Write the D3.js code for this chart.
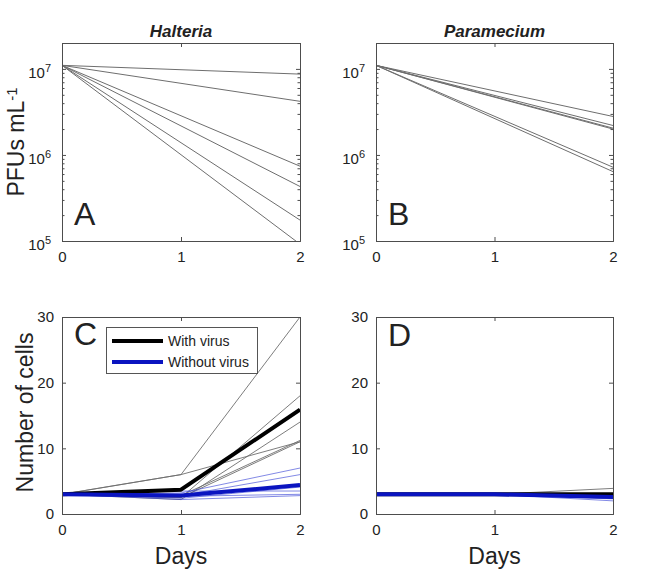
<!DOCTYPE html>
<html>
<head>
<meta charset="utf-8">
<script src="https://cdn.jsdelivr.net/npm/d3@7"></script>
<style>
  body { margin: 0; background: #fff; }
  svg { display: block; }
  text { font-family: "Liberation Sans", Arial, Helvetica, sans-serif; fill: #222; }
</style>
</head>
<body>
<svg id="chart" width="672" height="588"></svg>
<script>
// ---------- Data ----------
const pfuDays = [0, 2];
const cellDays = [0, 1, 2];
const pfuTicks = [1e5, 1e6, 1e7];
const pfuExponents = ["5", "6", "7"];
const dayTicks = [0, 1, 2];
const cellTicks = [0, 10, 20, 30];

const halteriaPFU = [
  [1.1e7, 8.7e6], [1.1e7, 4.2e6], [1.1e7, 7.4e5],
  [1.1e7, 4.3e5], [1.1e7, 1.75e5], [1.1e7, 9.2e4]
];
const parameciumPFU = [
  [1.1e7, 2.8e6], [1.1e7, 2.2e6], [1.1e7, 2.05e6],
  [1.1e7, 2.0e6], [1.1e7, 7.2e5], [1.1e7, 6.4e5]
];

const halteriaWithVirus = [
  [3, 6, 30], [3, 6, 11], [3, 2.5, 18], [3, 2.2, 14], [3, 2.5, 11], [3, 2.8, 11.2]
];
const halteriaWithoutVirus = [
  [3, 3.2, 7.0], [3, 2.8, 6.0], [3, 2.4, 4.1], [3, 2.7, 3.0], [3, 2.2, 2.8], [3, 3.5, 3.5]
];
const halteriaWithMean = [3, 3.7, 15.9];
const halteriaWithoutMean = [3, 2.8, 4.4];

const parameciumWithVirus = [
  [3, 3, 3.9], [3, 3, 3.1], [3, 2.9, 2.7], [3, 3, 2.4]
];
const parameciumWithoutVirus = [
  [3, 3, 2.9], [3, 3, 2.6], [3, 3, 2.3], [3, 3, 2.0]
];
const parameciumWithMean = [3, 3, 3.0];
const parameciumWithoutMean = [3, 3, 2.6];

const titles = ["Halteria", "Paramecium"];
const panelLetters = ["A", "B", "C", "D"];
const legendLabels = ["With virus", "Without virus"];

// ---------- Layout ----------
const svg = d3.select("#chart");
const axisColor = "#4d4d4d";
const grayLine = "#6e6e6e";
const blueThin = "#3a46d6";
const blueThick = "#0a14c0";

const cols = [{x0: 62, x1: 300}, {x0: 376, x1: 613}];
const rowTop = {y0: 43, y1: 241};
const rowBot = {y0: 317, y1: 514};

let clipId = 0;
function panel(col, row, isLog) {
  const x = d3.scaleLinear().domain([0, 2]).range([col.x0, col.x1]);
  const y = isLog
    ? d3.scaleLog().domain([1e5, 2e7]).range([row.y1, row.y0])
    : d3.scaleLinear().domain([0, 30]).range([row.y1, row.y0]);
  const g = svg.append("g");
  const id = "clip" + (clipId++);
  svg.append("clipPath").attr("id", id).append("rect")
    .attr("x", col.x0).attr("y", row.y0)
    .attr("width", col.x1 - col.x0).attr("height", row.y1 - row.y0);
  const plot = g.append("g").attr("clip-path", `url(#${id})`);
  return {x, y, g, plot, col, row};
}

function drawFrame(p, isLog) {
  const {x, y, g, col, row} = p;
  const tl = 4;
  const xa = g.append("g").attr("transform", `translate(0,${row.y1})`)
    .call(d3.axisBottom(x).tickValues(dayTicks).tickSize(-tl).tickPadding(10).tickFormat(d3.format("d")));
  const xt = g.append("g").attr("transform", `translate(0,${row.y0})`)
    .call(d3.axisTop(x).tickValues(dayTicks).tickSize(-tl).tickFormat(""));
  let ya, yr;
  if (isLog) {
    ya = g.append("g").attr("transform", `translate(${col.x0},0)`)
      .call(d3.axisLeft(y).tickValues(pfuTicks).tickSize(-tl).tickPadding(6).tickFormat(() => ""));
    yr = g.append("g").attr("transform", `translate(${col.x1},0)`)
      .call(d3.axisRight(y).tickValues(pfuTicks).tickSize(-tl).tickFormat(""));
    const minors = [];
    [1e5, 1e6, 1e7].forEach(dec => { for (let k = 2; k <= 9; k++) { const v = dec * k; if (v <= 2e7) minors.push(v); } });
    const ml = g.append("g").attr("transform", `translate(${col.x0},0)`)
      .call(d3.axisLeft(y).tickValues(minors).tickSize(-2.5).tickFormat(""));
    const mr = g.append("g").attr("transform", `translate(${col.x1},0)`)
      .call(d3.axisRight(y).tickValues(minors).tickSize(-2.5).tickFormat(""));
    [ml, mr].forEach(a => { a.select(".domain").remove(); a.selectAll("line").attr("stroke", axisColor); });
    ya.selectAll(".tick").each(function(d, i) {
      const t = d3.select(this).select("text").text(null)
        .attr("font-size", 15).attr("dy", "0.55em").attr("x", -11);
      t.append("tspan").text("10");
      t.append("tspan").attr("dy", "-0.55em").attr("font-size", 11).text(pfuExponents[i]);
    });
  } else {
    ya = g.append("g").attr("transform", `translate(${col.x0},0)`)
      .call(d3.axisLeft(y).tickValues(cellTicks).tickSize(-tl).tickPadding(8).tickFormat(d3.format("d")));
    yr = g.append("g").attr("transform", `translate(${col.x1},0)`)
      .call(d3.axisRight(y).tickValues(cellTicks).tickSize(-tl).tickFormat(""));
  }
  [xa, xt, ya, yr].forEach(a => {
    a.select(".domain").attr("stroke", axisColor).attr("stroke-width", 1);
    a.selectAll("line").attr("stroke", axisColor);
    a.selectAll("text").attr("font-size", 15).attr("fill", "#222")
      .attr("font-family", '"Liberation Sans", Arial, sans-serif');
  });
}

function lines(p, data, days, color, width, opacity) {
  const gen = d3.line().x((d, i) => p.x(days[i])).y(d => p.y(d));
  p.plot.selectAll(null).data(data).enter().append("path")
    .attr("d", gen).attr("fill", "none")
    .attr("stroke", color).attr("stroke-width", width)
    .attr("stroke-opacity", opacity).attr("stroke-linejoin", "round");
}

// ---------- Panels ----------
const pA = panel(cols[0], rowTop, true);
lines(pA, halteriaPFU, pfuDays, grayLine, 1, 1);
drawFrame(pA, true);

const pB = panel(cols[1], rowTop, true);
lines(pB, parameciumPFU, pfuDays, grayLine, 1, 1);
drawFrame(pB, true);

const pC = panel(cols[0], rowBot, false);
lines(pC, halteriaWithVirus, cellDays, grayLine, 0.9, 1);
lines(pC, halteriaWithoutVirus, cellDays, blueThin, 0.8, 0.8);
lines(pC, [halteriaWithMean], cellDays, "#000", 4, 1);
lines(pC, [halteriaWithoutMean], cellDays, blueThick, 4, 1);
drawFrame(pC, false);

const pD = panel(cols[1], rowBot, false);
lines(pD, parameciumWithVirus, cellDays, grayLine, 0.9, 1);
lines(pD, parameciumWithoutVirus, cellDays, blueThin, 0.8, 0.8);
lines(pD, [parameciumWithMean], cellDays, "#000", 4, 1);
lines(pD, [parameciumWithoutMean], cellDays, blueThick, 4, 1);
drawFrame(pD, false);

// ---------- Titles, labels ----------
[pA, pB].forEach((p, i) => {
  svg.append("text").attr("x", (p.col.x0 + p.col.x1) / 2).attr("y", 37)
    .attr("text-anchor", "middle").attr("font-size", 17)
    .attr("font-weight", "bold").attr("font-style", "italic").text(titles[i]);
});

[[pA, 225], [pB, 225], [pC, 345], [pD, 346]].forEach(([p, by], i) => {
  svg.append("text").attr("x", p.col.x0 + 12).attr("y", by)
    .attr("font-size", 32).attr("fill", "#000").text(panelLetters[i]);
});

const yl1 = svg.append("text")
  .attr("transform", `translate(24,${(rowTop.y0 + rowTop.y1) / 2}) rotate(-90)`)
  .attr("text-anchor", "middle").attr("font-size", 23);
yl1.append("tspan").text("PFUs mL");
yl1.append("tspan").attr("dy", "-0.5em").attr("font-size", 15).text("-1");

svg.append("text")
  .attr("transform", `translate(33,${(rowBot.y0 + rowBot.y1) / 2 - 3}) rotate(-90)`)
  .attr("text-anchor", "middle").attr("font-size", 23).text("Number of cells");

[pC, pD].forEach(p => {
  svg.append("text").attr("x", (p.col.x0 + p.col.x1) / 2).attr("y", 564)
    .attr("text-anchor", "middle").attr("font-size", 23).text("Days");
});

// ---------- Legend ----------
const lg = svg.append("g");
lg.append("rect").attr("x", 106.5).attr("y", 327.5).attr("width", 151).attr("height", 46)
  .attr("fill", "#fff").attr("stroke", "#555").attr("stroke-width", 1);
const legendColors = ["#000", blueThick];
legendLabels.forEach((lab, i) => {
  const yy = 341 + i * 21;
  lg.append("line").attr("x1", 112).attr("x2", 163).attr("y1", yy).attr("y2", yy)
    .attr("stroke", legendColors[i]).attr("stroke-width", 4);
  lg.append("text").attr("x", 168).attr("y", yy + 5).attr("font-size", 14).text(lab);
});
</script>
</body>
</html>
